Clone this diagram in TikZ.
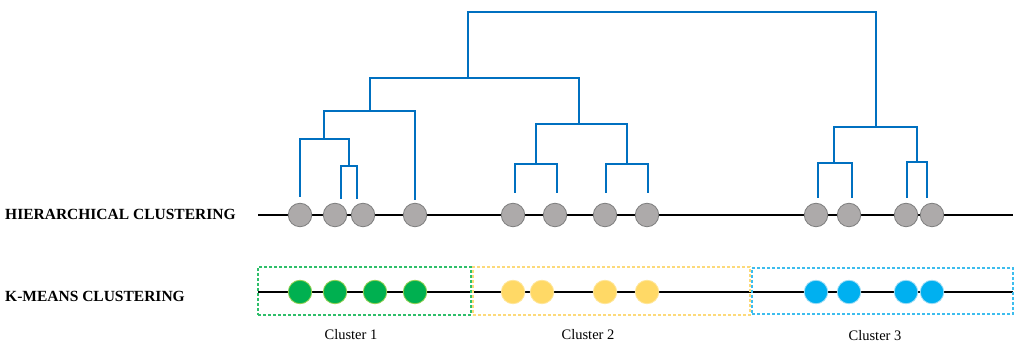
\documentclass[tikz,border=0pt]{standalone}
\usepackage{fontspec}
\setmainfont{Liberation Serif}
\definecolor{dblue}{HTML}{0070C0}
\definecolor{gfill}{HTML}{ADAAAA}
\definecolor{gdraw}{HTML}{7F7F7F}
\definecolor{kgreen}{HTML}{00B050}
\definecolor{kgreenl}{HTML}{92D050}
\definecolor{kyellow}{HTML}{FFD966}
\definecolor{kyellowl}{HTML}{FFE699}
\definecolor{kblue}{HTML}{00B0F0}
\definecolor{kbluel}{HTML}{9DDCF5}
\definecolor{boxgreen}{HTML}{2EBF6A}
\definecolor{boxyellow}{HTML}{FCDA7A}
\definecolor{boxblue}{HTML}{3DBDEE}
\begin{document}
\begin{tikzpicture}[x=1pt,y=-1pt,
  pt/.style={circle,minimum size=23.5pt,inner sep=0pt,line width=0.8pt},
  hpt/.style={pt,fill=gfill,draw=gdraw},
  gpt/.style={pt,fill=kgreen,draw=kgreenl},
  ypt/.style={pt,fill=kyellow,draw=kyellowl},
  bpt/.style={pt,fill=kblue,draw=kbluel},
  axis/.style={line width=2pt,black},
  dendro/.style={line width=2.4pt,dblue},
  cbox/.style={line width=1.1pt,dash pattern=on 3pt off 2pt},
  rowlabel/.style={font=\bfseries\fontsize{15.5}{18}\selectfont,anchor=west,inner sep=0pt},
  clabel/.style={font=\fontsize{14.5}{17}\selectfont,inner sep=0pt}
]
\useasboundingbox (0,0) rectangle (1016,344);

% axes
\coordinate (hl) at (258,215);
\coordinate (hr) at (1013,215);
\coordinate (kl) at (258,292);
\coordinate (kr) at (1013,292);
\draw[axis] (hl) -- (hr);
\draw[axis] (kl) -- (kr);

% labels
\node[rowlabel] (lh) at (5,214) {HIERARCHICAL CLUSTERING};
\node[rowlabel] (lk) at (5,296) {K-MEANS CLUSTERING};

% k-means boxes
\node[cbox,draw=boxgreen,minimum width=213pt,minimum height=48pt,inner sep=0pt] (b1) at (364.5,291) {};
\node[cbox,draw=boxyellow,minimum width=277pt,minimum height=48pt,inner sep=0pt] (b2) at (611.5,291) {};
\node[cbox,draw=boxblue,minimum width=261pt,minimum height=46pt,inner sep=0pt] (b3) at (882.5,291) {};

% dendrogram (drawn before points)
% cluster 1
\coordinate (a1) at (300,197); \coordinate (a2) at (341,199);
\coordinate (a3) at (357,199); \coordinate (a4) at (415,200);
\coordinate (j23) at (349,166);
\coordinate (j123) at (324,139);
\coordinate (j1) at (370,111);
\draw[dendro] (a2) |- (j23) -| (a3);
\draw[dendro] (a1) |- (j123) -| (j23);
\draw[dendro] (j123) |- (j1) -| (a4);
% cluster 2
\coordinate (c1) at (515,193); \coordinate (c2) at (557,193);
\coordinate (c3) at (606,193); \coordinate (c4) at (648,193);
\coordinate (j12b) at (536,164); \coordinate (j34b) at (627,164);
\coordinate (j2) at (579,124);
\draw[dendro] (c1) |- (j12b) -| (c2);
\draw[dendro] (c3) |- (j34b) -| (c4);
\draw[dendro] (j12b) |- (j2) -| (j34b);
% join cluster 1 and 2
\coordinate (j12) at (468,78);
\draw[dendro] (j1) |- (j12) -| (j2);
% cluster 3
\coordinate (d1) at (818,198); \coordinate (d2) at (852,198);
\coordinate (d3) at (907,198); \coordinate (d4) at (927,198);
\coordinate (j12c) at (834,163); \coordinate (j34c) at (917,162);
\coordinate (j3) at (876,127);
\draw[dendro] (d1) |- (j12c) -| (d2);
\draw[dendro] (d3) |- (j34c) -| (d4);
\draw[dendro] (j12c) |- (j3) -| (j34c);
% root
\coordinate (root) at (672,12);
\draw[dendro] (j12) |- (root) -| (j3);

% hierarchical points
\foreach \n/\x in {h1/300,h2/335,h3/363,h4/415,h5/513,h6/555,h7/605,h8/647,h9/816,h10/849,h11/906,h12/932}
  \node[hpt] (\n) at (\x,215) {};

% k-means points
\foreach \n/\x in {g1/300,g2/335,g3/375,g4/415}
  \node[gpt] (\n) at (\x,292) {};
\foreach \n/\x in {y1/513,y2/542,y3/605,y4/647}
  \node[ypt] (\n) at (\x,292) {};
\foreach \n/\x in {u1/816,u2/849,u3/906,u4/932}
  \node[bpt] (\n) at (\x,292) {};

% cluster labels
\node[clabel] (cl1) at (351,335) {Cluster 1};
\node[clabel] (cl2) at (588,335) {Cluster 2};
\node[clabel] (cl3) at (875,336) {Cluster 3};
\end{tikzpicture}
\end{document}
